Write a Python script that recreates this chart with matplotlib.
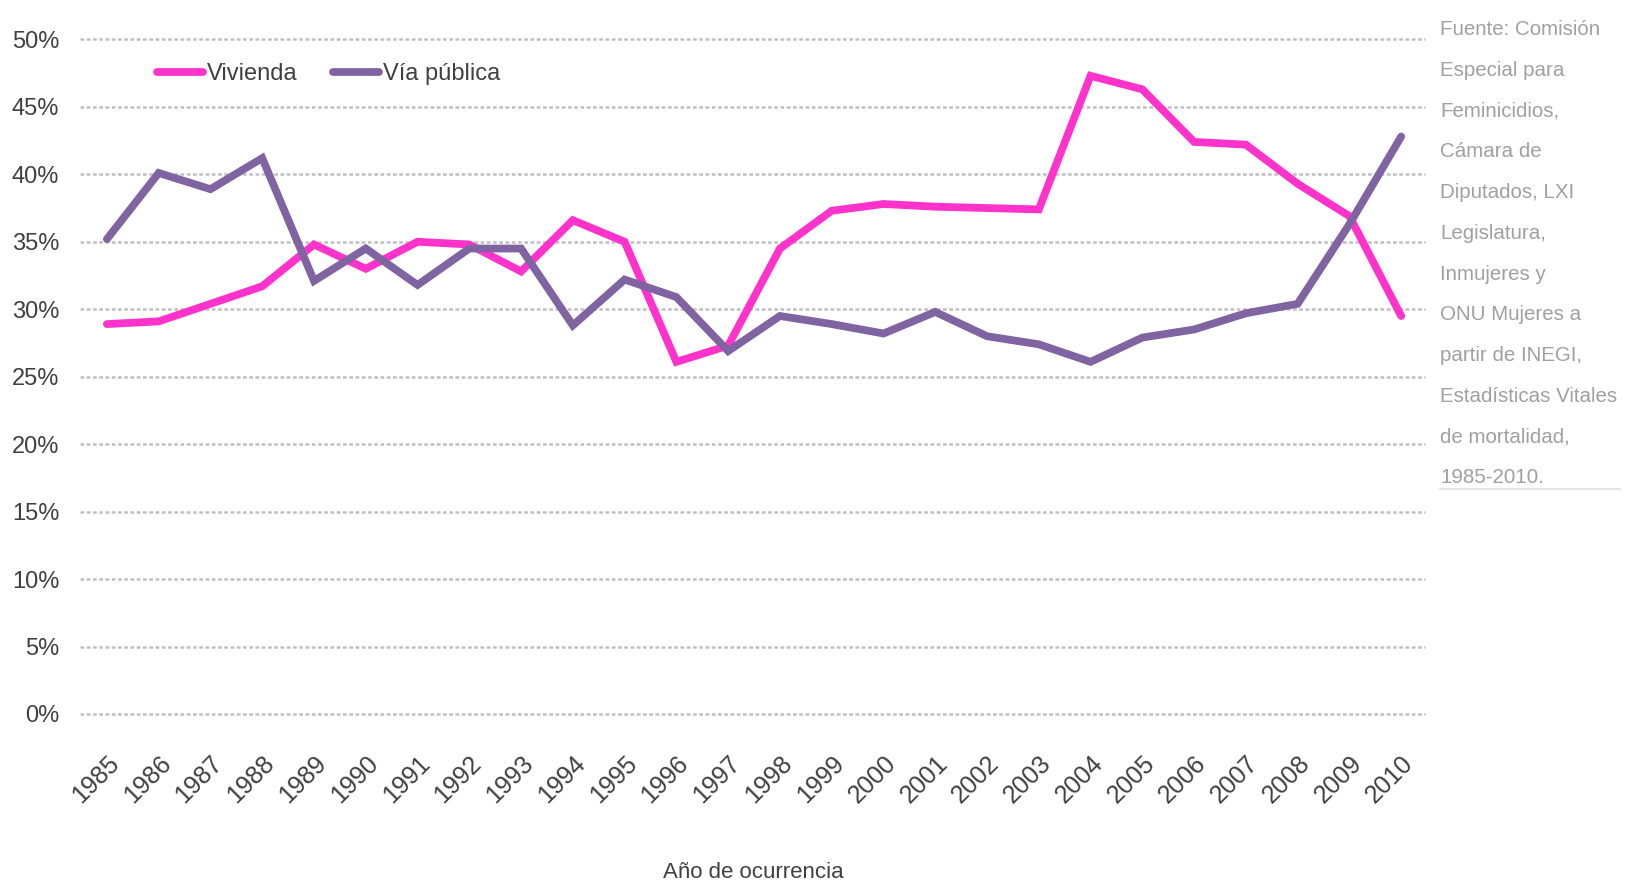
import matplotlib
matplotlib.use("Agg")
import matplotlib.pyplot as plt
import numpy as np

# datos (porcentaje)
years = [str(y) for y in range(1985, 2011)]
vivienda = [28.9, 29.1, 30.4, 31.7, 34.8, 33.0, 35.0, 34.8, 32.8, 36.6,
            35.0, 26.1, 27.3, 34.5, 37.3, 37.8, 37.6, 37.5, 37.4, 47.3,
            46.3, 42.4, 42.2, 39.3, 36.9, 29.5]
via_publica = [35.2, 40.1, 38.9, 41.2, 32.1, 34.5, 31.8, 34.5, 34.5, 28.8,
               32.2, 30.9, 26.9, 29.5, 28.9, 28.2, 29.8, 28.0, 27.4, 26.1,
               27.9, 28.5, 29.7, 30.4, 36.3, 42.8]
y_ticks = [0, 5, 10, 15, 20, 25, 30, 35, 40, 45, 50]
source_text = ("Fuente: Comisión\nEspecial para\nFeminicidios,\nCámara de\n"
               "Diputados, LXI\nLegislatura,\nInmujeres y\nONU Mujeres a\n"
               "partir de INEGI,\nEstadísticas Vitales\nde mortalidad,\n1985-2010.")

plt.rcParams['font.family'] = ['Liberation Sans', 'DejaVu Sans']

W, H = 1625, 885
fig = plt.figure(figsize=(W / 100, H / 100), dpi=100)
ax = fig.add_axes([80 / W, 1 - 714 / H, (1425 - 80) / W, (714 - 39.4) / H])

x = np.arange(len(years))
ax.plot(x, vivienda, color='#FF33CC', lw=5.6, solid_capstyle='round',
        solid_joinstyle='miter', label='Vivienda', zorder=3)
ax.plot(x, via_publica, color='#8064A2', lw=5.6, solid_capstyle='round',
        solid_joinstyle='miter', label='Vía pública', zorder=3)

ax.set_xlim(-0.52, len(years) - 0.54)
ax.set_ylim(0, 50)
ax.set_yticks(y_ticks)
ax.set_yticklabels([f"{t}%" for t in y_ticks], fontsize=17, color='#404040')
ax.set_xticks(x)
ax.set_xticklabels(years, rotation=45, ha='right', rotation_mode='anchor',
                   fontsize=18, color='#404040')
ax.tick_params(axis='both', length=0)
ax.tick_params(axis='y', pad=15)
ax.tick_params(axis='x', pad=27)
for s in ax.spines.values():
    s.set_visible(False)

for t in y_ticks:
    ax.axhline(t, color='#C0C0C0', lw=1.8, ls=(0, (1.5, 1.0)), zorder=1, clip_on=False)

ax.legend(loc='center left', bbox_to_anchor=(0.0576, 0.949), ncol=2, frameon=False,
          fontsize=17, handlelength=1.93, handletextpad=0.17, columnspacing=1.5,
          borderpad=0, borderaxespad=0, labelcolor='#404040')

fig.text(753 / W, 1 - 873 / H, 'Año de ocurrencia', ha='center', va='center',
         fontsize=16, color='#404040')

fig.text(1440 / W, 1 - 20 / H, source_text, ha='left', va='top', fontsize=14.8,
         color='#A0A0A0', linespacing=2.45)
fig.add_artist(plt.Line2D([1440 / W, 1620 / W], [1 - 489 / H, 1 - 489 / H],
                          color='#E0E0E0', lw=1.2))

fig.savefig('out.png', dpi=100)
